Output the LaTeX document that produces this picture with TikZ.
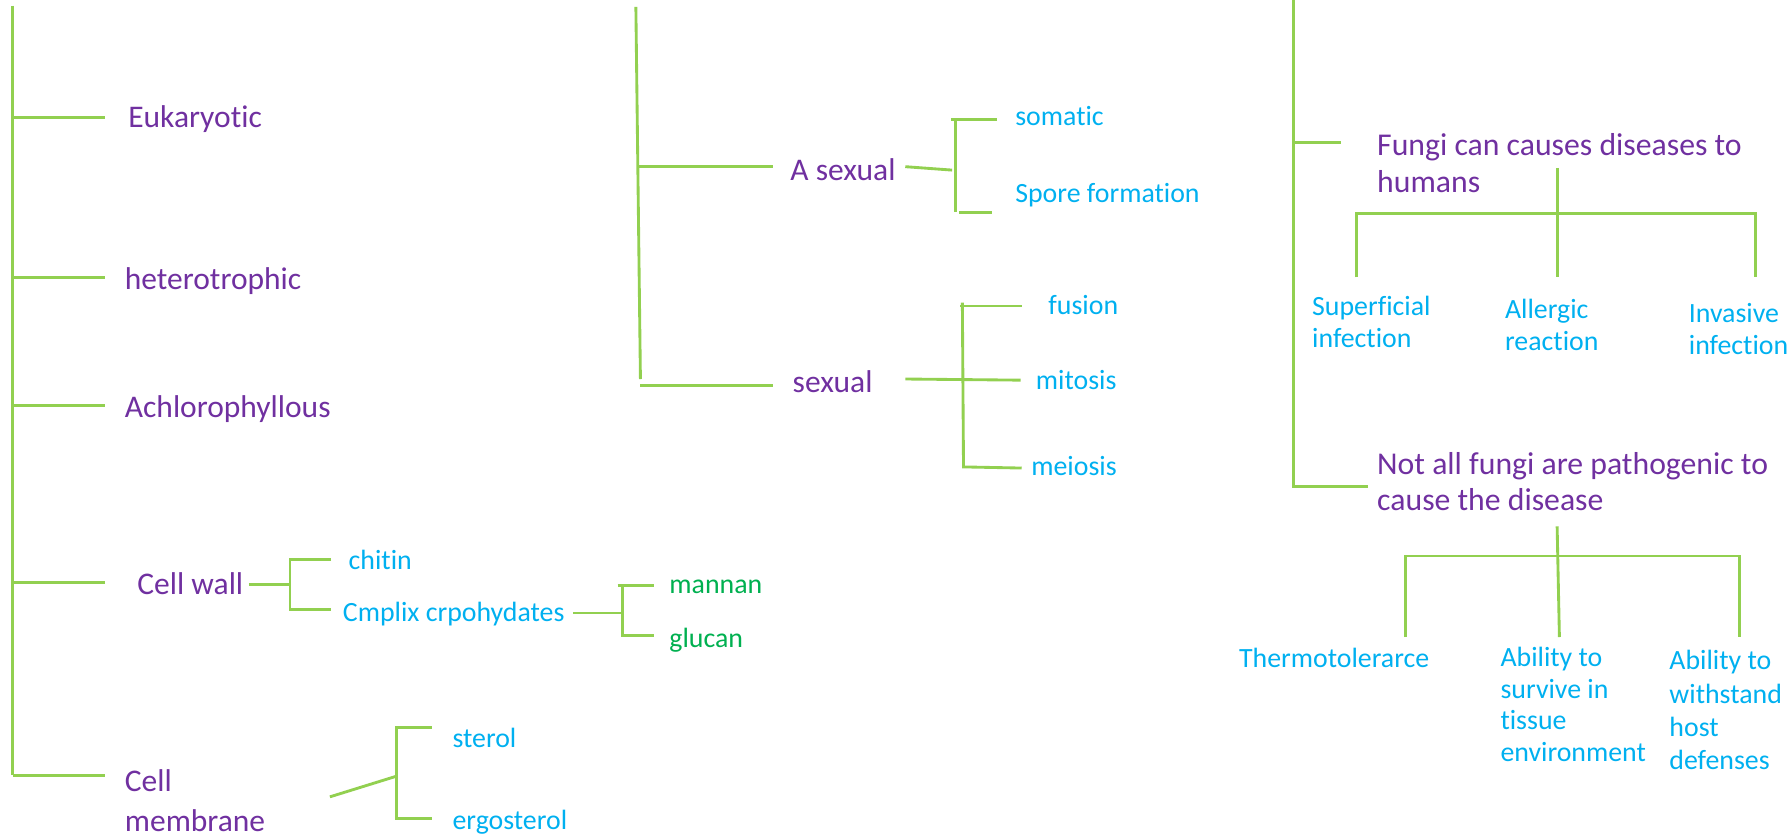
\documentclass[tikz,border=0pt]{standalone}
\usepackage{fontspec}
\setmainfont[Ligatures=NoCommon]{Carlito}
\usetikzlibrary{calc}
\definecolor{lg}{HTML}{92D050}
\definecolor{pu}{HTML}{7030A0}
\definecolor{bl}{HTML}{00B0F0}
\definecolor{gr}{HTML}{00B050}
\begin{document}
\begin{tikzpicture}[x=0.5pt,y=-0.5pt,
  ln/.style={draw=lg,line width=1.25pt},
  main/.style={text=pu,font=\fontsize{13.8}{16.5}\selectfont,inner sep=0pt},
  sub/.style={text=bl,font=\fontsize{12.2}{14}\selectfont,inner sep=0pt},
  leaf/.style={text=gr,font=\fontsize{12.2}{14}\selectfont,inner sep=0pt},
  one/.style={anchor=mid west,yshift=-2pt},
  multi/.style={anchor=west,align=left,yshift=-0.5pt}]
\useasboundingbox (0,0) rectangle (1568,734);

% ---------- left tree ----------
\coordinate (Ltop) at (11,5);
\coordinate (Lbot) at (11,679);
\draw[ln] (Ltop) -- (Lbot);
\node[main,one] (euk) at (112,103) {Eukaryotic};
\node[main,one] (het) at (109,245) {heterotrophic};
\node[main,one] (ach) at (109,357) {Achlorophyllous};
\node[main,one] (cw) at (120,512) {Cell wall};
\node[main,multi,font=\fontsize{13.8}{17.5}\selectfont] (cm) at (109,700) {Cell\\membrane};
\foreach \y/\n in {103/a,243/b,355/c,510/d,679/e}{
  \coordinate (Ls\n) at (11,\y);
  \coordinate (Le\n) at (92,\y);
  \draw[ln] (Ls\n) -- (Le\n);
}
% cell wall bracket
\node[sub,one] (chitin) at (305,490) {chitin};
\node[sub,one] (cmplix) at (300,536) {Cmplix crpohydates};
\coordinate (cw1) at (218,512);
\coordinate (cw2) at (254,512);
\draw[ln] (cw1) -- (cw2);
\coordinate (cwt) at (254,490);
\coordinate (cwb) at (254,534);
\draw[ln] ($(cwt)+(36,0)$) -- (cwt) -- (cwb) -- ($(cwb)+(36,0)$);
% carbohydrate bracket
\node[leaf,one] (mannan) at (586,511) {mannan};
\node[leaf,one] (glucan) at (586,558) {glucan};
\coordinate (ch1) at (502,537);
\coordinate (ch2) at (545,537);
\draw[ln] (ch1) -- (ch2);
\coordinate (cht) at (545,513);
\coordinate (chb) at (545,557);
\draw[ln] (541,513) -- (573,513);
\draw[ln] (cht) -- (chb) -- (573,557);
% membrane bracket
\node[sub,one] (sterol) at (396,646) {sterol};
\node[sub,one] (ergo) at (396,718) {ergosterol};
\coordinate (cm1) at (289,698);
\coordinate (cm2) at (347,680);
\draw[ln] (cm1) -- (cm2);
\coordinate (cmt) at (347,637);
\coordinate (cmb) at (347,717);
\draw[ln] (378,637) -- (cmt) -- (cmb) -- (378,717);

% ---------- middle tree ----------
\coordinate (Mtop) at (557,6);
\coordinate (Mbot) at (561,332);
\draw[ln] (Mtop) -- (Mbot);
\coordinate (Ma1) at (559,146);
\coordinate (Ma2) at (677,146);
\draw[ln] (Ma1) -- (Ma2);
\coordinate (Ms1) at (561,338);
\coordinate (Ms2) at (677,338);
\draw[ln] (Ms1) -- (Ms2);
\node[main,one] (asex) at (692,149) {A sexual};
\node[main,one] (sex) at (694,335) {sexual};
% asexual bracket
\node[sub,one] (som) at (889,101) {somatic};
\node[sub,one] (spore) at (889,169) {Spore formation};
\coordinate (as1) at (793,146);
\coordinate (as2) at (834,149);
\draw[ln] (as1) -- (as2);
\coordinate (abt) at (837,105);
\coordinate (abb) at (837,186);
\draw[ln] (833,105) -- (873,105);
\draw[ln] (abt) -- (abb);
\draw[ln] (840,186) -- (869,186);
% sexual bracket
\node[sub,one] (fus) at (918,267) {fusion};
\node[sub,one] (mit) at (907,332) {mitosis};
\node[sub,one] (mei) at (903,408) {meiosis};
\coordinate (sx1) at (793,332);
\coordinate (sx2) at (894,333);
\draw[ln] (sx1) -- (sx2);
\coordinate (sbt) at (843,265);
\coordinate (sbb) at (844,409);
\draw[ln] (841,268) -- (895,268);
\draw[ln] (sbt) -- (sbb) -- (895,410);

% ---------- right tree ----------
\coordinate (Rtop) at (1133,0);
\coordinate (Rbot) at (1133,426);
\draw[ln] (Rtop) -- (Rbot) -- (1198,426);
\coordinate (Rf1) at (1133,125);
\coordinate (Rf2) at (1175,125);
\draw[ln] (Rf1) -- (Rf2);
\node[main,multi,font=\fontsize{13.9}{16.5}\selectfont] (fungi) at (1206,142) {Fungi can causes diseases to\\humans};
\node[main,multi,font=\fontsize{13.9}{16}\selectfont] (notall) at (1206,421) {Not all fungi are pathogenic to\\cause the disease};
% fungi fork
\coordinate (ff1) at (1364,147);
\coordinate (ff2) at (1364,243);
\draw[ln] (ff1) -- (ff2);
\draw[ln] (1188,243) -- (1188,187) -- (1538,187) -- (1538,243);
\node[sub,multi] (sup) at (1149,281) {Superficial\\infection};
\node[sub,multi] (all) at (1318,284) {Allergic\\reaction};
\node[sub,multi] (inv) at (1479,287) {Invasive\\infection};
% not all fork
\coordinate (nf1) at (1364,461);
\coordinate (nf2) at (1366,558);
\draw[ln] (nf1) -- (nf2);
\draw[ln] (1231,558) -- (1231,487) -- (1524,487) -- (1524,558);
\node[sub,one] (therm) at (1085,576) {Thermotolerarce};
\node[sub,multi,font=\fontsize{12.2}{13.85}\selectfont] (surv) at (1314,616) {Ability to\\survive in\\tissue\\environment};
\node[sub,multi,font=\fontsize{12.2}{14.5}\selectfont] (with) at (1462,621) {Ability to\\withstand\\host\\defenses};
\end{tikzpicture}
\end{document}
